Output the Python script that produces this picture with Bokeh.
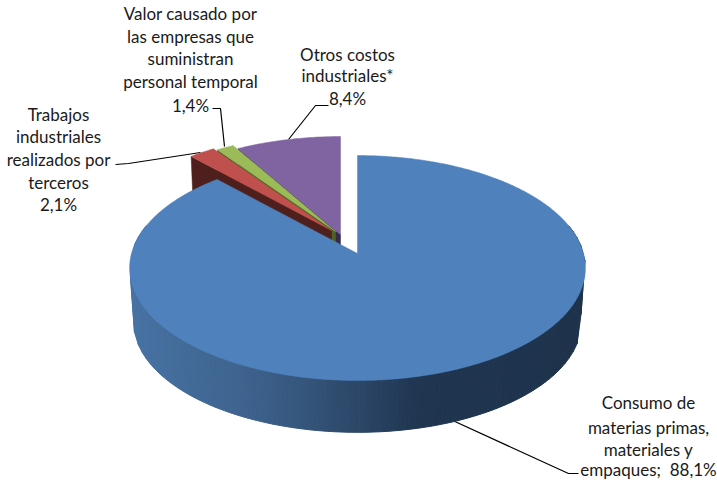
import numpy as np
from bokeh.embed import file_html
from bokeh.models import Range1d
from bokeh.plotting import figure
from bokeh.resources import INLINE
from bokeh.core.properties import value

# ---- data
names = ["Consumo de materias primas, materiales y empaques",
         "Trabajos industriales realizados por terceros",
         "Valor causado por las empresas que suministran personal temporal",
         "Otros costos industriales*"]
shares = [88.1, 2.1, 1.4, 8.4]
top_colors = ["#4f81bd", "#c0504d", "#9bbb59", "#8064a2"]
side_colors = ["#1f3550", "#4f1f1d", "#4e6128", "#372b4a"]

label_lines = [["Consumo de", "materias primas,", "materiales y", "empaques;\u00a0\u00a088,1%"],
               ["Trabajos", "industriales", "realizados por", "terceros", "2,1%"],
               ["Valor causado por", "las empresas que", "suministran", "personal temporal", "1,4%"],
               ["Otros costos", "industriales*", "8,4%"]]

# ---- layout (pixels of the photographed picture)
W, H = 717, 480
RX, A, K = 226.0, 110.6, 0.129      # projection of the pie's disc
DEPTH, SHRINK = 54.0, 0.983         # wall height and perspective of the lower disc
apex = [(357, 253), (331, 230), (335, 231), (340, 234)]

label_pos = [(648, [401.5, 426.5, 448.5, 468.5]),
             (58, [113.5, 135.5, 158.5, 181.5, 203.5]),
             (190, [12.5, 35.5, 57.5, 80.5, 104.5]),
             (347, [53.5, 74.5, 97.5])]
leaders = [([578, 568, 450], [473, 473, 419]),
           ([115, 128, 200], [164, 163, 152]),
           ([212, 220, 224], [108, 108, 146]),
           ([328, 315, 288], [105, 105, 139])]

wall_x = [129, 240, 300, 357, 420, 585]
wall_rgb = [(0x47, 0x72, 0xa4), (0x3e, 0x63, 0x8e), (0x35, 0x56, 0x7c),
            (0x2b, 0x46, 0x67), (0x1f, 0x35, 0x50), (0x1e, 0x32, 0x4b)]


def rim(theta):
    """Offset from a slice's apex of the rim point at clockwise angle theta (radians)."""
    u, v = np.sin(theta), np.cos(theta)
    w = 1 + K * v
    return RX * u / w, -A * v / w


edges = np.radians(np.concatenate([[0], np.cumsum(shares)]) / sum(shares) * 360)

p = figure(width=W, height=H, x_range=Range1d(0, W), y_range=Range1d(H, 0),
           output_backend="svg", toolbar_location=None, min_border=0,
           background_fill_color="white", border_fill_color="white")
p.axis.visible = False
p.grid.visible = False
p.outline_line_color = None

for xs, ys in leaders:
    p.line(xs, ys, line_color="black", line_width=1.2)


def slice_top(i):
    t = np.linspace(edges[i], edges[i + 1], max(4, int((edges[i + 1] - edges[i]) * 80)))
    dx, dy = rim(t)
    ax, ay = apex[i]
    return np.r_[ax, ax + dx], np.r_[ay, ay + dy]


def drop(ax, ay, dx, dy):
    return ax + SHRINK * dx, ay + SHRINK * dy + DEPTH


# exploded small slices, back to front: their left cut faces, then their tops
for i in [3, 2, 1]:
    ax, ay = apex[i]
    ex, ey = rim(edges[i])
    bx0, by0 = drop(ax, ay, ex, ey)
    bx1, by1 = drop(ax, ay, 0, 0)
    p.patch([ax, ax + ex, bx0, bx1], [ay, ay + ey, by0, by1],
            fill_color=side_colors[i], line_color=side_colors[i], line_width=0.5)
    xs, ys = slice_top(i)
    p.patch(xs, ys, fill_color=top_colors[i], line_color=top_colors[i], line_width=0.5)

# big slice: wall of the front half only, strips about 4 px wide, shaded along x
ax, ay = apex[0]
fine = np.linspace(np.radians(75), np.radians(285), 2001)
fx = rim(fine)[0]
t = [fine[0]]
for th, x in zip(fine, fx):
    if abs(x - rim(t[-1])[0]) >= 4:
        t.append(th)
t.append(fine[-1])
t = np.array(t)
dx, dy = rim(t)
tx, ty = ax + dx, ay + dy
bx, by = drop(ax, ay, dx, dy)
xs, ys, cols = [], [], []
for j in range(len(t) - 1):
    xs.append([tx[j], tx[j + 1], bx[j + 1], bx[j]])
    ys.append([ty[j], ty[j + 1], by[j + 1], by[j]])
    mid = (tx[j] + tx[j + 1]) / 2
    rgb = [int(round(np.interp(mid, wall_x, [c[k] for c in wall_rgb]))) for k in range(3)]
    cols.append("#%02x%02x%02x" % tuple(rgb))
p.patches(xs, ys, fill_color=cols, line_color=cols, line_width=1)
xs, ys = slice_top(0)
p.patch(xs, ys, fill_color=top_colors[0], line_color=top_colors[0], line_width=0.5)

for lines, (x, yy) in zip(label_lines, label_pos):
    p.text([x] * len(lines), yy, text=lines, text_align="center", text_baseline="middle",
           text_font=value("Lato"), text_font_size="17px", text_color="#1a1a1a")

open("out.html", "w").write(file_html(p, INLINE))
